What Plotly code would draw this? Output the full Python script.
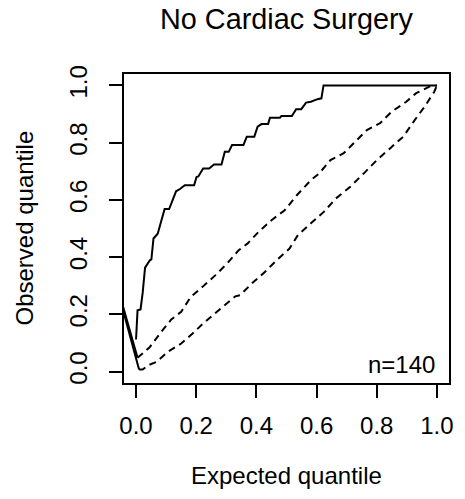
import plotly.graph_objects as go

# observed quantile curve
obs_x = [0.000, 0.005, 0.015, 0.022, 0.030, 0.046, 0.051, 0.058, 0.072, 0.082,
         0.095, 0.110, 0.133, 0.146, 0.162, 0.193, 0.201, 0.207, 0.223, 0.243,
         0.259, 0.284, 0.295, 0.308, 0.319, 0.357, 0.368, 0.393, 0.404, 0.417,
         0.439, 0.445, 0.478, 0.483, 0.518, 0.532, 0.549, 0.565, 0.581, 0.603,
         0.616, 0.623, 1.000]
obs_y = [0.112, 0.214, 0.217, 0.275, 0.363, 0.389, 0.392, 0.465, 0.482, 0.522,
         0.568, 0.568, 0.630, 0.638, 0.651, 0.651, 0.680, 0.682, 0.710, 0.710,
         0.724, 0.724, 0.768, 0.768, 0.792, 0.792, 0.821, 0.821, 0.856, 0.865,
         0.865, 0.887, 0.887, 0.893, 0.893, 0.917, 0.917, 0.940, 0.943, 0.952,
         0.955, 1.000, 1.000]

# upper and lower reference bands
upper_x = [-0.060, 0.005, 0.046, 0.084, 0.117, 0.150, 0.182, 0.221, 0.264, 0.303,
           0.341, 0.371, 0.407, 0.450, 0.494, 0.535, 0.581, 0.609, 0.646, 0.690,
           0.729, 0.767, 0.811, 0.849, 0.898, 0.931, 0.975, 1.000]
upper_y = [0.290, 0.048, 0.086, 0.139, 0.182, 0.209, 0.261, 0.296, 0.337, 0.378,
           0.424, 0.448, 0.488, 0.529, 0.564, 0.617, 0.669, 0.693, 0.739, 0.763,
           0.803, 0.844, 0.868, 0.908, 0.943, 0.973, 0.996, 1.000]

lower_x = [-0.060, 0.010, 0.022, 0.040, 0.068, 0.106, 0.150, 0.188, 0.221, 0.264,
           0.308, 0.330, 0.346, 0.385, 0.428, 0.467, 0.510, 0.538, 0.581, 0.624,
           0.664, 0.712, 0.762, 0.800, 0.844, 0.888, 0.926, 0.959, 0.991, 1.000]
lower_y = [0.281, 0.007, 0.007, 0.022, 0.034, 0.069, 0.098, 0.133, 0.166, 0.205,
           0.243, 0.263, 0.267, 0.308, 0.348, 0.389, 0.430, 0.477, 0.518, 0.558,
           0.605, 0.646, 0.698, 0.739, 0.780, 0.821, 0.879, 0.926, 0.978, 1.000]

tick_vals = [0.0, 0.2, 0.4, 0.6, 0.8, 1.0]
tick_text = ['0.0', '0.2', '0.4', '0.6', '0.8', '1.0']
n_obs = 140

FONT = 'Liberation Sans, Arial, sans-serif'
solid = dict(color='black', width=2)
dashed = dict(color='black', width=2, dash='7px,5px')

# the page body adds an 8px margin, so the figure is drawn 8px smaller
PAGE_PAD = 8
W, H = 465 - PAGE_PAD, 499 - PAGE_PAD

fig = go.Figure()

# bands: first segment comes in from off the plot and shows as solid
for bx, by in [(upper_x, upper_y), (lower_x, lower_y)]:
    fig.add_trace(go.Scatter(x=bx[:2], y=by[:2], mode='lines', line=solid,
                             showlegend=False, hoverinfo='skip'))
    fig.add_trace(go.Scatter(x=bx[1:], y=by[1:], mode='lines', line=dashed,
                             showlegend=False))

fig.add_trace(go.Scatter(x=obs_x, y=obs_y, mode='lines', line=solid, showlegend=False))

axis_common = dict(
    range=[-0.04, 1.04],
    tickvals=tick_vals,
    ticktext=tick_text,
    ticks='outside',
    ticklen=13,
    tickwidth=2,
    tickcolor='black',
    showline=True,
    linecolor='black',
    linewidth=2,
    mirror=True,
    showgrid=False,
    zeroline=False,
    tickfont=dict(family=FONT, size=24, color='black'),
)

fig.update_xaxes(**axis_common, ticklabelstandoff=7)
fig.update_yaxes(**axis_common, tickangle=-90, ticklabelstandoff=12)

fig.add_annotation(text=f'n={n_obs}', x=1.0, y=0.0, xref='x', yref='y',
                   xanchor='right', yanchor='bottom', yshift=-8, showarrow=False,
                   font=dict(family=FONT, size=24, color='black'))
fig.add_annotation(text='Expected quantile', x=0.5, y=0, xref='paper', yref='paper',
                   yanchor='middle', yshift=-92, showarrow=False,
                   font=dict(family=FONT, size=24, color='black'))
fig.add_annotation(text='Observed quantile', x=0, y=0.5, xref='paper', yref='paper',
                   xanchor='center', xshift=-100, textangle=-90, showarrow=False,
                   font=dict(family=FONT, size=24, color='black'))

fig.update_layout(
    width=W,
    height=H,
    title=dict(text='No Cardiac Surgery', x=0.5, xref='paper', y=1 - 11 / H,
               yref='container', yanchor='middle',
               font=dict(family=FONT, size=28.8, color='black')),
    paper_bgcolor='white',
    plot_bgcolor='white',
    margin=dict(l=124 - PAGE_PAD, r=12, t=74 - PAGE_PAD, b=116),
)

fig.write_html('out.html')
